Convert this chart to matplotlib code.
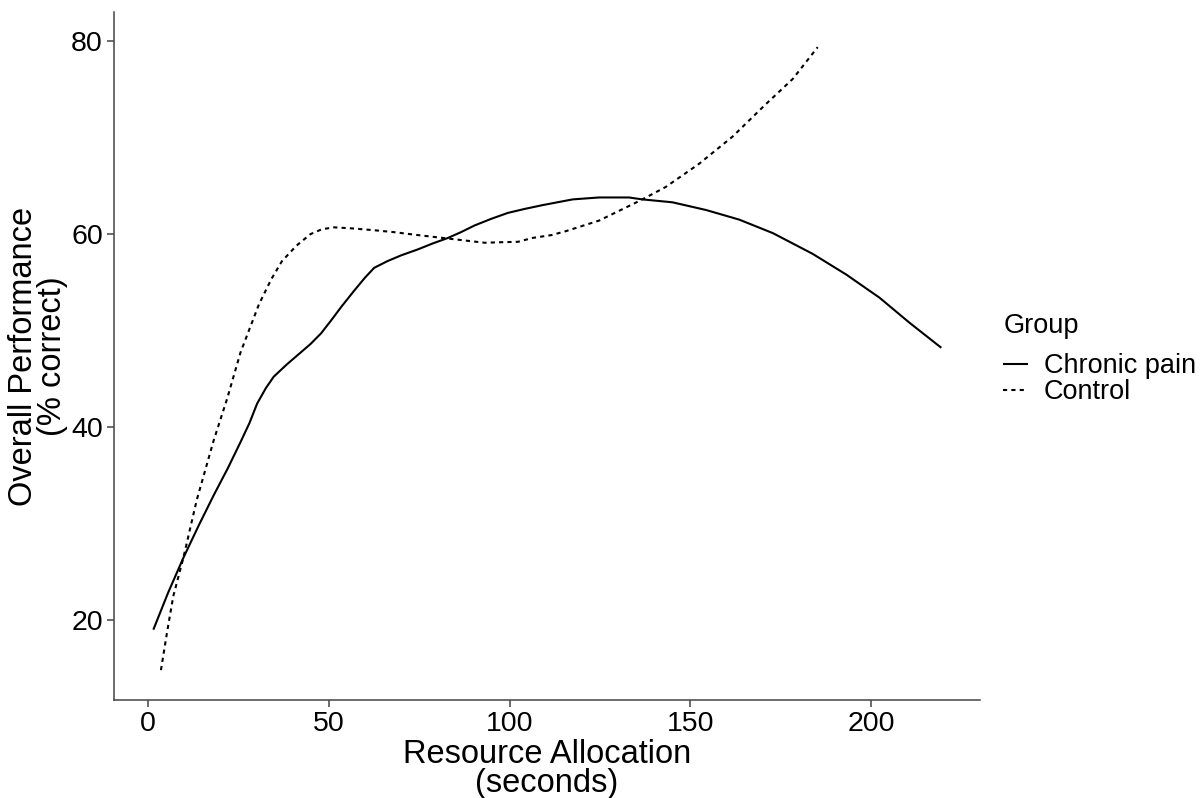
import matplotlib
matplotlib.use("Agg")
import matplotlib.pyplot as plt

# Chronic pain curve
chronic_x = [1.4, 5.5, 9.7, 14.0, 18.1, 22.0, 25.5, 28.0, 30.1, 32.5, 34.7, 38.4, 41.5, 44.9, 47.8,
             50.5, 53.5, 56.9, 60.0, 62.5, 66.2, 70.0, 74.5, 78.5, 82.9, 86.5, 90.3, 95.0, 99.5,
             104.0, 109.0, 117.4, 124.7, 133.0, 136.7, 145.0, 154.3, 163.5, 172.8, 183.8,
             193.1, 202.3, 210.6, 219.4]
chronic_y = [18.95, 22.8, 26.4, 29.8, 32.9, 35.7, 38.4, 40.4, 42.4, 44.0, 45.2, 46.5, 47.5, 48.6, 49.7,
             51.0, 52.5, 54.1, 55.5, 56.5, 57.2, 57.8, 58.4, 59.0, 59.6, 60.2, 60.9, 61.6, 62.2,
             62.6, 63.0, 63.6, 63.8, 63.8, 63.6, 63.3, 62.5, 61.5, 60.1, 57.95,
             55.8, 53.4, 50.8, 48.2]

# Control curve
control_x = [3.5, 5.2, 6.9, 9.7, 13.4, 18.1, 21.8, 25.5, 30.6, 34.0, 37.0, 41.0, 44.9, 48.0, 51.4,
             56.0, 62.5, 68.0, 74.5, 83.8, 93.1, 97.0, 102.3, 106.3, 111.6, 115.5, 124.7,
             134.0, 136.7, 143.2, 152.4, 161.6, 170.9, 178.3, 185.2]
control_y = [14.75, 18.7, 22.4, 26.4, 32.4, 38.6, 42.9, 47.7, 52.7, 55.3, 57.2, 58.8, 60.0, 60.5, 60.7,
             60.6, 60.4, 60.2, 59.9, 59.5, 59.1, 59.15, 59.2, 59.6, 59.9, 60.3, 61.4,
             63.1, 63.6, 64.9, 67.3, 70.1, 73.5, 76.1, 79.4]

x_ticks = [0, 50, 100, 150, 200]
y_ticks = [20, 40, 60, 80]

plt.rcParams['font.family'] = ['Liberation Sans', 'DejaVu Sans']

fig = plt.figure(figsize=(12.02, 7.98), dpi=100)
ax = fig.add_axes([0.0948, 0.1228, 0.815 - 0.0948, 0.985 - 0.1228])

ax.plot(chronic_x, chronic_y, color='black', lw=1.5, linestyle='-', label='Chronic pain',
        solid_capstyle='butt', solid_joinstyle='round')
ax.plot(control_x, control_y, color='black', lw=1.5, linestyle=(0, (2, 2)), label='Control',
        dash_capstyle='butt')

ax.set_xlim(-9.5, 230)
ax.set_ylim(11.65, 83.05)
ax.set_xticks(x_ticks)
ax.set_yticks(y_ticks)
ax.tick_params(axis='both', labelsize=20.5, colors='#444444', labelcolor='black',
               length=5, width=1.1, direction='out', pad=3)
for s in ['top', 'right']:
    ax.spines[s].set_visible(False)
for s in ['left', 'bottom']:
    ax.spines[s].set_color('#444444')
    ax.spines[s].set_linewidth(1.1)

ax.set_xlabel('Resource Allocation\n(seconds)', fontsize=23.5, linespacing=0.95, labelpad=1)
ax.set_ylabel('Overall Performance\n(% correct)', fontsize=23.5, linespacing=0.95, labelpad=2)

leg = ax.legend(loc='center left', bbox_to_anchor=(1.015, 0.495), frameon=False, title='Group',
                fontsize=19.5, title_fontsize=19.5, handlelength=0.9, handletextpad=0.6,
                labelspacing=0.0, borderaxespad=0.0)
leg._legend_box.align = 'left'
leg._legend_box.sep = 10

fig.savefig('out.png', dpi=100)
